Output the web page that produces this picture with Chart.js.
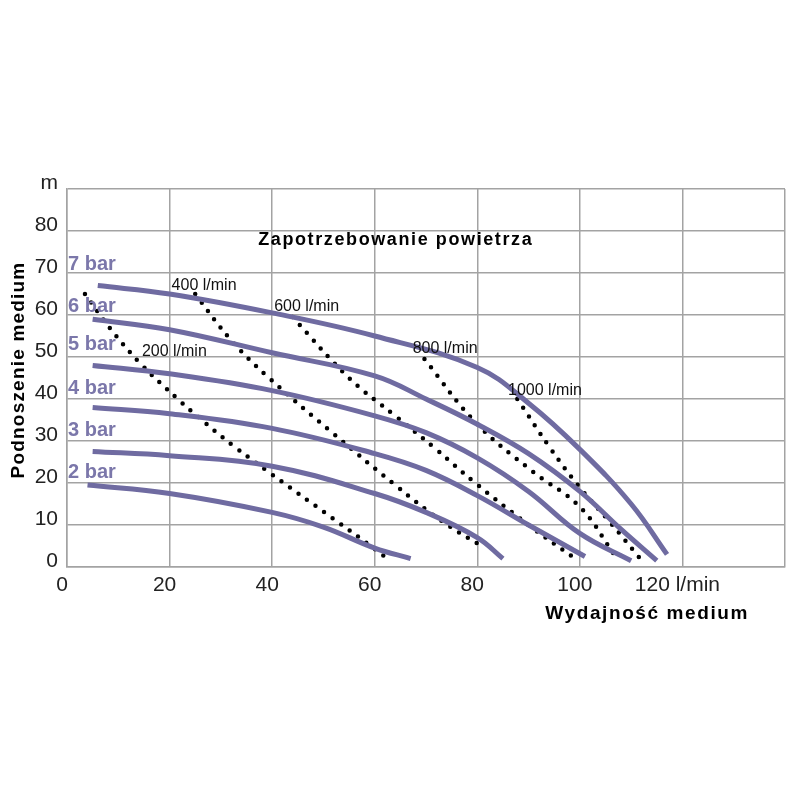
<!DOCTYPE html>
<html>
<head>
<meta charset="utf-8">
<script src="https://cdn.jsdelivr.net/npm/chart.js@4/dist/chart.umd.min.js"></script>
<style>
  html, body { margin: 0; padding: 0; background: #fff; }
  #wrap { width: 800px; height: 800px; }
</style>
</head>
<body>
<div id="wrap"><canvas id="chart"></canvas></div>
<script>
// krzywe wydajnosci dla cisnienia zasilania [l/min, m]
const bar7 = [[6,67],[20,65],[40,60.5],[60,55],[80,47.5],[90,39],[100,28],[110,15],[117,3]];
const bar6 = [[5,59],[20,56.5],[40,51],[60,45.5],[70,40],[80,34],[90,27],[100,18],[108,9],[115,1.5]];
const bar5 = [[5,48],[20,46],[40,42],[60,36],[70,32],[80,26],[90,18],[100,8],[110,1.5]];
const bar4 = [[5,38],[20,36.5],[40,33],[60,27],[70,23],[80,17],[90,10],[101,2.5]];
const bar3 = [[5,27.5],[20,26.5],[40,24],[60,17.5],[70,13],[80,7],[85,2]];
const bar2 = [[4,19.5],[20,17.5],[40,13],[50,9.5],[60,4.5],[67,2]];

// zapotrzebowanie powietrza (linie kropkowane)
const air200 = [[3.5,65],[8.3,57],[14.2,48.6],[21.6,40],[25.8,35.5],[32.3,29],[40,22],[51.7,11.7],[59.8,4.5],[63,1.5]];
const air400 = [[25,65],[32,54],[39.4,45],[51.7,32],[64,19.5],[73,11],[81.5,4.5]];
const air600 = [[44,59.5],[55,45],[64,36],[72,28],[79.6,20],[90,10],[98.6,2.4]];
const air800 = [[69.7,49.5],[79.6,34.5],[90.5,23],[100,14.3],[106.8,2.8]];
const air1000 = [[87.8,40],[94.4,28],[99.6,19.5],[106,10.5],[111.5,2.4]];

const barNames = ["7 bar", "6 bar", "5 bar", "4 bar", "3 bar", "2 bar"];
const barLabelY = [72.1, 62.1, 52.9, 42.6, 32.6, 22.4];
const airNames = ["200 l/min", "400 l/min", "600 l/min", "800 l/min", "1000 l/min"];
const airLabelPos = [[14.6,51.4],[20.4,67.1],[40.4,62.1],[67.4,51.9],[86,42.1]];

const xTicks = [0, 20, 40, 60, 80, 100, 120, 140];
const yTicks = [0, 10, 20, 30, 40, 50, 60, 70, 80, 90];

const curveColor = "#6f6ba1";
const labelColor = "#7b77aa";
const fam = "'Liberation Sans', Arial, sans-serif";

const toXY = arr => arr.map(p => ({ x: p[0], y: p[1] }));

const curves = [bar7, bar6, bar5, bar4, bar3, bar2].map(d => ({
  data: toXY(d),
  borderColor: curveColor,
  borderWidth: 5,
  pointRadius: 0,
  tension: 0.4,
  borderCapStyle: "butt"
}));
const dots = [air200, air400, air600, air800, air1000].map(d => ({
  data: toXY(d),
  borderColor: "#000",
  borderWidth: 4.5,
  borderDash: [0, 10.5],
  borderCapStyle: "round",
  pointRadius: 0,
  tension: 0.4
}));

// napisy na wykresie
const textPlugin = {
  id: "texts",
  afterDatasetsDraw(chart) {
    const c = chart.ctx, xs = chart.scales.x, ys = chart.scales.y;
    c.save();
    c.textBaseline = "middle";
    c.textAlign = "left";
    c.fillStyle = labelColor;
    c.font = "bold 20px " + fam;
    barNames.forEach((n, i) => c.fillText(n, xs.getPixelForValue(0.2), ys.getPixelForValue(barLabelY[i])));
    c.fillStyle = "#111";
    c.font = "16px " + fam;
    airNames.forEach((n, i) => c.fillText(n, xs.getPixelForValue(airLabelPos[i][0]), ys.getPixelForValue(airLabelPos[i][1])));
    c.fillStyle = "#000";
    c.font = "bold 18px " + fam;
    c.letterSpacing = "1.6px";
    c.textAlign = "center";
    c.fillText("Zapotrzebowanie powietrza", xs.getPixelForValue(64.1), ys.getPixelForValue(77.9));
    c.font = "bold 19px " + fam;
    c.textAlign = "right";
    c.fillText("Wydajność medium", 749, 614);
    c.translate(19, 370);
    c.rotate(-Math.PI / 2);
    c.textAlign = "center";
    c.letterSpacing = "1.2px";
    c.fillText("Podnoszenie medium", 0, 0);
    c.restore();
  }
};

new Chart(document.getElementById("chart"), {
  type: "line",
  data: { datasets: [...curves, ...dots] },
  plugins: [textPlugin],
  options: {
    responsive: true,
    maintainAspectRatio: false,
    animation: false,
    layout: { padding: { top: 189, right: 15, left: 0, bottom: 0 } },
    plugins: { legend: { display: false }, tooltip: { enabled: false } },
    scales: {
      x: {
        type: "linear", min: 0, max: 140,
        afterBuildTicks: s => { s.ticks = xTicks.map(v => ({ value: v })); },
        afterFit: s => { s.height = 233; },
        grid: { color: "#a3a3a3", lineWidth: 1.5, drawTicks: false },
        border: { color: "#a3a3a3", width: 1.5 },
        ticks: {
          padding: 6, labelOffset: -5, color: "#222",
          font: { size: 21, family: fam },
          callback: v => v === 120 ? "120 l/min" : (v === 140 ? "" : v)
        }
      },
      y: {
        type: "linear", min: 0, max: 90,
        afterBuildTicks: s => { s.ticks = yTicks.map(v => ({ value: v })); },
        afterFit: s => { s.width = 67; },
        grid: { color: "#a3a3a3", lineWidth: 1.5, drawTicks: false },
        border: { color: "#a3a3a3", width: 1.5 },
        ticks: {
          padding: 9, labelOffset: -6, color: "#222",
          font: { size: 21, family: fam },
          callback: v => v === 90 ? "m" : v
        }
      }
    }
  }
});
</script>
</body>
</html>
